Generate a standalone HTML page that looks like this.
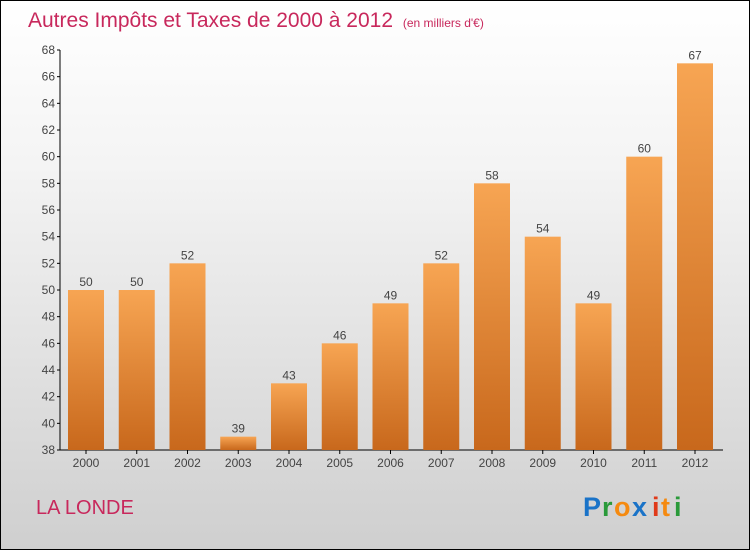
<!DOCTYPE html>
<html><head><meta charset="utf-8"><style>
html,body{margin:0;padding:0}
body{width:750px;height:550px;overflow:hidden;font-family:"Liberation Sans",sans-serif}
#wrap{position:absolute;left:0;top:0;width:748px;height:548px;border:1px solid #000;background:linear-gradient(#ffffff,#f4f4f4 30%,#cfcfcf)}
</style></head><body>
<div id="wrap">
<svg width="750" height="550" style="position:absolute;left:-1px;top:-1px">
<defs><linearGradient id="bg" x1="0" y1="0" x2="0" y2="1"><stop offset="0" stop-color="#f7a553"/><stop offset="1" stop-color="#c8681c"/></linearGradient></defs>
<text x="28" y="27" font-size="21" fill="#c8285c">Autres Impôts et Taxes de 2000 à 2012 <tspan font-size="12" dx="4">(en milliers d'€)</tspan></text>
<g id="yaxis"></g>
<g id="bars"></g>
<text x="36" y="514" font-size="20" fill="#c8285c">LA LONDE</text>
<g font-size="27" font-weight="bold">
<text x="583" y="516" fill="#1a73c8">P</text><text x="602" y="516" fill="#2a9a3a">r</text><text x="614" y="516" fill="#f58a10">o</text><text x="632" y="516" fill="#1a73c8">x</text><text x="652" y="516" fill="#e03a1a">i</text><text x="661" y="516" fill="#f58a10">t</text><text x="674" y="516" fill="#2a9a3a">i</text>
</g>
</svg>
</div>
<script>
const years=["2000","2001","2002","2003","2004","2005","2006","2007","2008","2009","2010","2011","2012"];
const values=[50,50,52,39,43,46,49,52,58,54,49,60,67];
const yTicks=[38,40,42,44,46,48,50,52,54,56,58,60,62,64,66,68];
const NS="http://www.w3.org/2000/svg";
const y=v=>450-(v-38)*400/30;
const xc=i=>86+50.75*i;
function mk(t,a,p){const e=document.createElementNS(NS,t);for(const k in a)e.setAttribute(k,a[k]);p.appendChild(e);return e;}
const ya=document.getElementById('yaxis'),bg=document.getElementById('bars');
mk('line',{x1:60,y1:50,x2:60,y2:450,stroke:'#000'},ya);
mk('line',{x1:60,y1:450,x2:723,y2:450,stroke:'#000'},ya);
yTicks.forEach(v=>{
 const l=mk('line',{x1:57,x2:60,y1:y(v),y2:y(v),stroke:'#000'},ya);
 
 
 const t=mk('text',{x:55,y:y(v)+4,'text-anchor':'end','font-size':12,fill:'#444'},ya);t.textContent=v;
 
 
});
years.forEach((yr,i)=>{
 const v=values[i];
 const r=mk('rect',{x:xc(i)-18,y:y(v),width:36,height:450-y(v),fill:'url(#bg)'},bg);
 
 
 const t=mk('text',{x:xc(i),y:y(v)-4,'text-anchor':'middle','font-size':12,fill:'#444'},bg);t.textContent=v;
 
 
 const tk=mk('line',{x1:xc(i),x2:xc(i),y1:450,y2:454,stroke:'#000'},bg);
 
 
 const xl=mk('text',{x:xc(i),y:467,'text-anchor':'middle','font-size':12,fill:'#444'},bg);xl.textContent=yr;
 
 
});
</script>
</body></html>
